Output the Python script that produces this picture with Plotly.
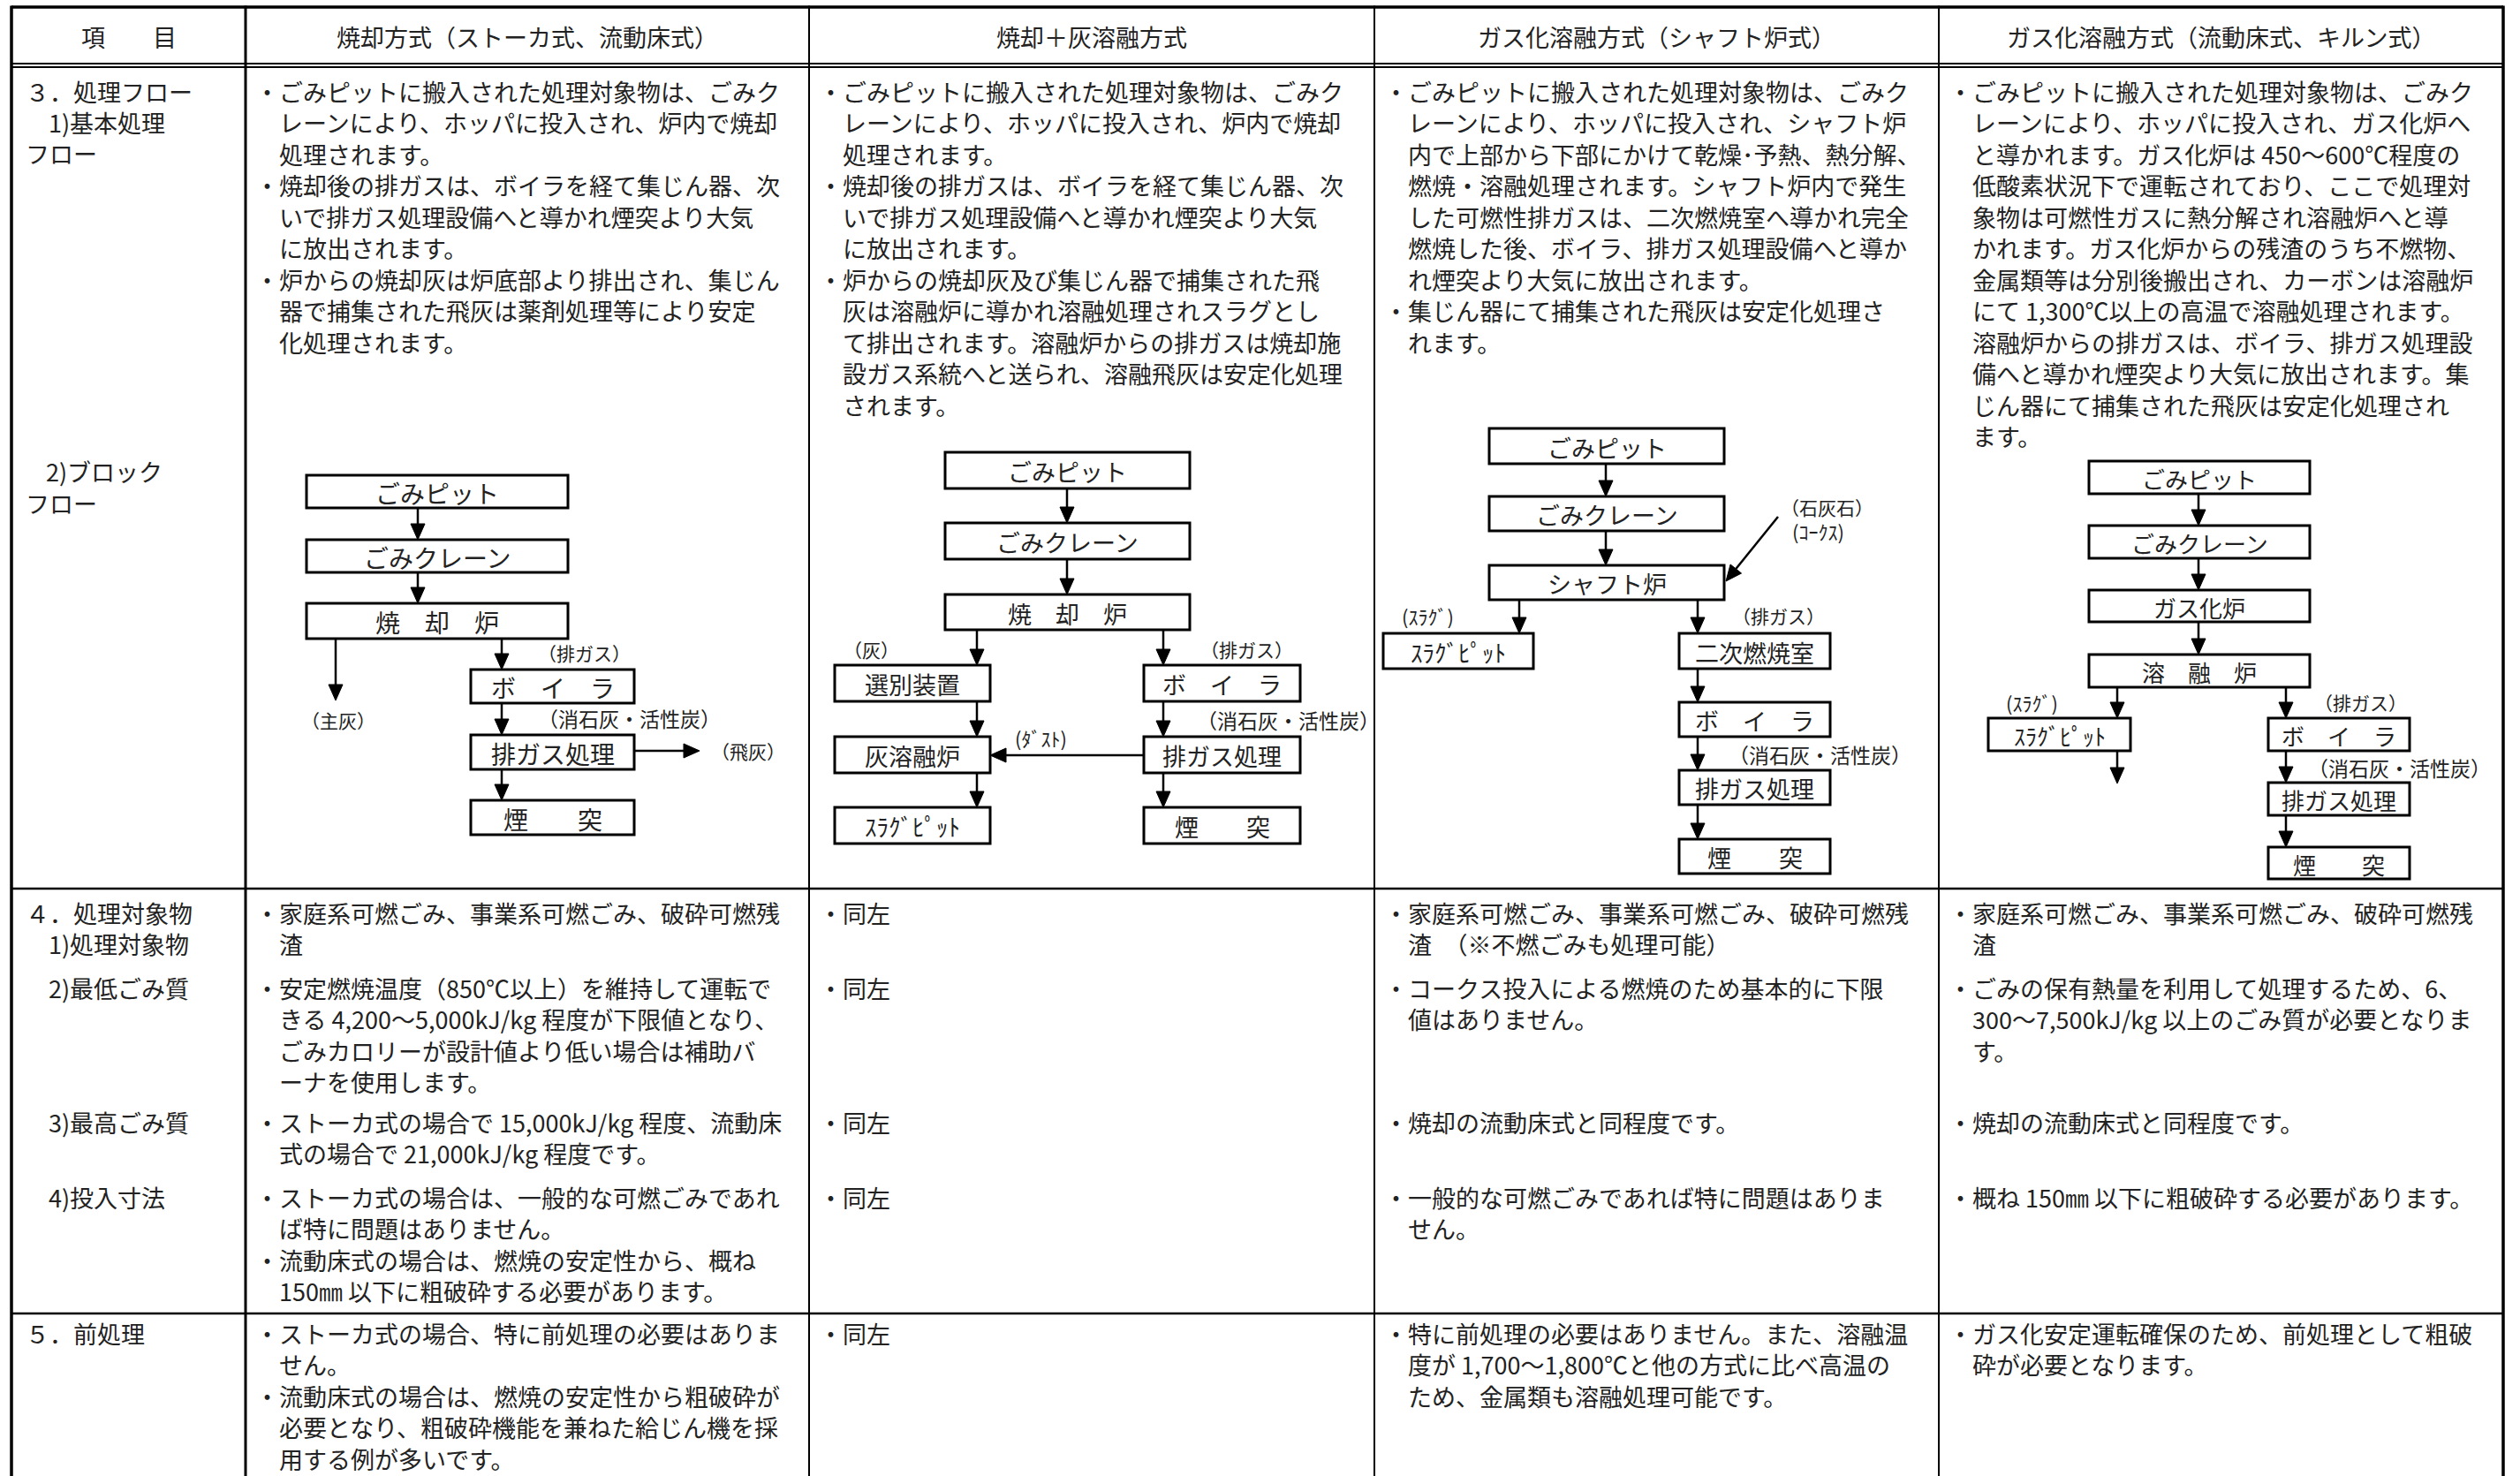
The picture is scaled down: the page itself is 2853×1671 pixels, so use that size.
import math
import plotly.graph_objects as go

W, H = 2853, 1671
FONT = "Noto Sans CJK JP"
INK = "#222222"

# ---------------- text content ----------------
headers = ["項　　目", "焼却方式（ストーカ式、流動床式）", "焼却＋灰溶融方式",
           "ガス化溶融方式（シャフト炉式）", "ガス化溶融方式（流動床式、キルン式）"]

item_labels = ["３．処理フロー", "1)基本処理", "フロー", "2)ブロック", "フロー",
               "４．処理対象物", "1)処理対象物", "2)最低ごみ質", "3)最高ごみ質", "4)投入寸法",
               "５．前処理"]

flow_c1 = ["・ごみピットに搬入された処理対象物は、ごみク",
           "レーンにより、ホッパに投入され、炉内で焼却",
           "処理されます。",
           "・焼却後の排ガスは、ボイラを経て集じん器、次",
           "いで排ガス処理設備へと導かれ煙突より大気",
           "に放出されます。",
           "・炉からの焼却灰は炉底部より排出され、集じん",
           "器で捕集された飛灰は薬剤処理等により安定",
           "化処理されます。"]
flow_c2 = ["・ごみピットに搬入された処理対象物は、ごみク",
           "レーンにより、ホッパに投入され、炉内で焼却",
           "処理されます。",
           "・焼却後の排ガスは、ボイラを経て集じん器、次",
           "いで排ガス処理設備へと導かれ煙突より大気",
           "に放出されます。",
           "・炉からの焼却灰及び集じん器で捕集された飛",
           "灰は溶融炉に導かれ溶融処理されスラグとし",
           "て排出されます。溶融炉からの排ガスは焼却施",
           "設ガス系統へと送られ、溶融飛灰は安定化処理",
           "されます。"]
flow_c3 = ["・ごみピットに搬入された処理対象物は、ごみク",
           "レーンにより、ホッパに投入され、シャフト炉",
           "内で上部から下部にかけて乾燥･予熱、熱分解、",
           "燃焼・溶融処理されます。シャフト炉内で発生",
           "した可燃性排ガスは、二次燃焼室へ導かれ完全",
           "燃焼した後、ボイラ、排ガス処理設備へと導か",
           "れ煙突より大気に放出されます。",
           "・集じん器にて捕集された飛灰は安定化処理さ",
           "れます。"]
flow_c4 = ["・ごみピットに搬入された処理対象物は、ごみク",
           "レーンにより、ホッパに投入され、ガス化炉へ",
           "と導かれます。ガス化炉は 450～600℃程度の",
           "低酸素状況下で運転されており、ここで処理対",
           "象物は可燃性ガスに熱分解され溶融炉へと導",
           "かれます。ガス化炉からの残渣のうち不燃物、",
           "金属類等は分別後搬出され、カーボンは溶融炉",
           "にて 1,300℃以上の高温で溶融処理されます。",
           "溶融炉からの排ガスは、ボイラ、排ガス処理設",
           "備へと導かれ煙突より大気に放出されます。集",
           "じん器にて捕集された飛灰は安定化処理され",
           "ます。"]

target_c1 = [["・家庭系可燃ごみ、事業系可燃ごみ、破砕可燃残", "渣"],
             ["・安定燃焼温度（850℃以上）を維持して運転で",
              "きる 4,200～5,000kJ/kg 程度が下限値となり、",
              "ごみカロリーが設計値より低い場合は補助バ",
              "ーナを使用します。"],
             ["・ストーカ式の場合で 15,000kJ/kg 程度、流動床",
              "式の場合で 21,000kJ/kg 程度です。"],
             ["・ストーカ式の場合は、一般的な可燃ごみであれ",
              "ば特に問題はありません。",
              "・流動床式の場合は、燃焼の安定性から、概ね",
              "150㎜ 以下に粗破砕する必要があります。"]]
target_c2 = [["・同左"], ["・同左"], ["・同左"], ["・同左"]]
target_c3 = [["・家庭系可燃ごみ、事業系可燃ごみ、破砕可燃残", "渣　（※不燃ごみも処理可能）"],
             ["・コークス投入による燃焼のため基本的に下限", "値はありません。"],
             ["・焼却の流動床式と同程度です。"],
             ["・一般的な可燃ごみであれば特に問題はありま", "せん。"]]
target_c4 = [["・家庭系可燃ごみ、事業系可燃ごみ、破砕可燃残", "渣"],
             ["・ごみの保有熱量を利用して処理するため、6、",
              "300～7,500kJ/kg 以上のごみ質が必要となりま", "す。"],
             ["・焼却の流動床式と同程度です。"],
             ["・概ね 150㎜ 以下に粗破砕する必要があります。"]]

pre_c1 = ["・ストーカ式の場合、特に前処理の必要はありま", "せん。",
          "・流動床式の場合は、燃焼の安定性から粗破砕が",
          "必要となり、粗破砕機能を兼ねた給じん機を採", "用する例が多いです。"]
pre_c2 = ["・同左"]
pre_c3 = ["・特に前処理の必要はありません。また、溶融温",
          "度が 1,700～1,800℃と他の方式に比べ高温の",
          "ため、金属類も溶融処理可能です。"]
pre_c4 = ["・ガス化安定運転確保のため、前処理として粗破", "砕が必要となります。"]

# block-flow box labels / side labels
boxes_c1 = ["ごみピット", "ごみクレーン", "焼　却　炉", "ボ　イ　ラ", "排ガス処理", "煙　　突"]
notes_c1 = ["（排ガス）", "（主灰）", "（消石灰・活性炭）", "（飛灰）"]
boxes_c2 = ["ごみピット", "ごみクレーン", "焼　却　炉", "選別装置", "ボ　イ　ラ",
            "灰溶融炉", "排ガス処理", "ｽﾗｸﾞﾋﾟｯﾄ", "煙　　突"]
notes_c2 = ["（灰）", "（排ガス）", "（消石灰・活性炭）", "(ﾀﾞｽﾄ)"]
boxes_c3 = ["ごみピット", "ごみクレーン", "シャフト炉", "ｽﾗｸﾞﾋﾟｯﾄ", "二次燃焼室",
            "ボ　イ　ラ", "排ガス処理", "煙　　突"]
notes_c3 = ["(ｽﾗｸﾞ)", "（排ガス）", "（消石灰・活性炭）", "（石灰石）", "(ｺｰｸｽ)"]
boxes_c4 = ["ごみピット", "ごみクレーン", "ガス化炉", "溶　融　炉", "ｽﾗｸﾞﾋﾟｯﾄ",
            "ボ　イ　ラ", "排ガス処理", "煙　　突"]
notes_c4 = ["(ｽﾗｸﾞ)", "（排ガス）", "（消石灰・活性炭）"]

# ---------------- layout geometry (page pixels) ----------------
COLS = [13, 278, 916, 1556, 2195, 2834]
Y_TOP, Y_HDR1, Y_HDR2, Y_R3, Y_R4 = 8, 72, 76, 1006, 1487
LS = 35.5
ROW3_Y0 = 103
SUB_Y = [1033, 1118, 1270, 1355]
ROW5_Y0 = 1509
label_pos = [(27, 103), (53, 138), (27, 173), (50, 533), (27, 569),
             (27, 1033), (53, 1068), (53, 1118), (53, 1270), (53, 1355), (27, 1509)]

geo_c1 = dict(
    boxes=[(347, 643, 538, 575), (347, 643, 611, 648), (347, 643, 683, 723),
           (533, 718, 758, 796), (533, 718, 832, 871), (533, 718, 906, 945)],
    arrows=[(473, 575, 473, 611), (473, 648, 473, 683), (380, 723, 380, 793),
            (568, 723, 568, 758), (568, 796, 568, 832), (718, 850, 792, 850),
            (568, 871, 568, 906)],
    notes=[(661, 739), (383, 815), (712, 813), (847, 850)], bsize=28)
geo_c2 = dict(
    boxes=[(1070, 1347, 512, 553), (1070, 1347, 592, 633), (1070, 1347, 673, 713),
           (945, 1121, 753, 794), (1295, 1472, 753, 794), (945, 1121, 834, 875),
           (1295, 1472, 834, 875), (945, 1121, 914, 955), (1295, 1472, 914, 955)],
    arrows=[(1208, 553, 1208, 592), (1208, 633, 1208, 673), (1106, 713, 1106, 753),
            (1317, 713, 1317, 753), (1106, 794, 1106, 834), (1317, 794, 1317, 834),
            (1295, 855, 1121, 855), (1106, 875, 1106, 914), (1317, 875, 1317, 914)],
    notes=[(986, 735), (1411, 735), (1458, 815), (1178, 835)], bsize=27)
geo_c3 = dict(
    boxes=[(1686, 1952, 485, 525), (1686, 1952, 562, 601), (1686, 1952, 640, 679),
           (1566, 1736, 717, 757), (1901, 2072, 717, 757), (1901, 2072, 795, 834),
           (1901, 2072, 872, 911), (1901, 2072, 950, 989)],
    arrows=[(1818, 525, 1818, 562), (1818, 601, 1818, 640), (1720, 679, 1720, 717),
            (1922, 679, 1922, 717), (1922, 757, 1922, 795), (1922, 834, 1922, 872),
            (1922, 911, 1922, 950), (2013, 585, 1954, 658)],
    notes=[(1616, 697), (2013, 697), (2060, 854), (2068, 574), (2058, 601)], bsize=27)
geo_c4 = dict(
    boxes=[(2365, 2615, 522, 559), (2365, 2615, 595, 632), (2365, 2615, 668, 704),
           (2365, 2615, 741, 778), (2251, 2412, 813, 850), (2568, 2728, 813, 850),
           (2568, 2728, 886, 923), (2568, 2728, 959, 995)],
    arrows=[(2489, 559, 2489, 595), (2489, 632, 2489, 668), (2489, 704, 2489, 741),
            (2397, 778, 2397, 813), (2588, 778, 2588, 813), (2397, 850, 2397, 887),
            (2588, 850, 2588, 886), (2588, 923, 2588, 959)],
    notes=[(2300, 795), (2672, 795), (2716, 869)], bsize=26)

BODY = 27


def note_size(s):
    if "消石灰" in s:
        return 23
    if "ｽ" in s or "ｺ" in s:
        return 22
    return 21


fig = go.Figure()
shapes, annos = [], []


def line(x0, y0, x1, y1, w=2.0):
    shapes.append(dict(type="line", x0=x0, y0=y0, x1=x1, y1=y1, xref="x", yref="y",
                       line=dict(color="black", width=w)))


def text(s, x, y, size=BODY, xanchor="left"):
    annos.append(dict(text=s, x=x, y=y, xref="x", yref="y", showarrow=False,
                      xanchor=xanchor, yanchor="middle",
                      font=dict(family=FONT, size=size, color=INK)))


def arrow(x0, y0, x1, y1, L=18, hw=8, w=2.5):
    dx, dy = x1 - x0, y1 - y0
    n = math.hypot(dx, dy)
    ux, uy = dx / n, dy / n
    bx, by = x1 - ux * L, y1 - uy * L
    px, py = -uy * hw, ux * hw
    line(x0, y0, bx, by, w)
    shapes.append(dict(type="path", xref="x", yref="y",
                       path=f"M{x1},{y1} L{bx + px},{by + py} L{bx - px},{by - py} Z",
                       fillcolor="black", line=dict(color="black", width=1)))


# grid lines
line(COLS[0], Y_TOP, COLS[-1], Y_TOP, 3.5)
line(COLS[0], Y_HDR1, COLS[-1], Y_HDR1, 2)
line(COLS[0], Y_HDR2, COLS[-1], Y_HDR2, 2)
line(COLS[0], Y_R3, COLS[-1], Y_R3, 2.5)
line(COLS[0], Y_R4, COLS[-1], Y_R4, 2.5)
vw = [3.5, 3, 2, 2, 2, 3.5]
for cx, w in zip(COLS, vw):
    line(cx, Y_TOP - 1.5, cx, H, w)

# headers
for i, h in enumerate(headers):
    text(h, (COLS[i] + COLS[i + 1]) / 2, 41, xanchor="center")

# row item labels
for s, (x, y) in zip(item_labels, label_pos):
    text(s, x, y)


def cell_lines(lines, col, y0):
    left = COLS[col]
    for k, s in enumerate(lines):
        x = left + 9 if s.startswith("・") else left + 36
        text(s, x, y0 + k * LS)


for col, lines in zip([1, 2, 3, 4], [flow_c1, flow_c2, flow_c3, flow_c4]):
    cell_lines(lines, col, ROW3_Y0)
for col, subs in zip([1, 2, 3, 4], [target_c1, target_c2, target_c3, target_c4]):
    for y0, lines in zip(SUB_Y, subs):
        cell_lines(lines, col, y0)
for col, lines in zip([1, 2, 3, 4], [pre_c1, pre_c2, pre_c3, pre_c4]):
    cell_lines(lines, col, ROW5_Y0)

# block flows
for labels, notes, geo in [(boxes_c1, notes_c1, geo_c1), (boxes_c2, notes_c2, geo_c2),
                           (boxes_c3, notes_c3, geo_c3), (boxes_c4, notes_c4, geo_c4)]:
    for lab, (x0, x1, y0, y1) in zip(labels, geo["boxes"]):
        shapes.append(dict(type="rect", x0=x0, x1=x1, y0=y0, y1=y1, xref="x", yref="y",
                           line=dict(color="black", width=3), fillcolor="rgba(0,0,0,0)"))
        text(lab, (x0 + x1) / 2, (y0 + y1) / 2 + 1, size=geo["bsize"], xanchor="center")
    for a in geo["arrows"]:
        arrow(*a)
    for s, (x, y) in zip(notes, geo["notes"]):
        text(s, x, y, size=note_size(s), xanchor="center")

fig.update_layout(
    width=W, height=H,
    margin=dict(l=0, r=0, t=0, b=0),
    paper_bgcolor="white", plot_bgcolor="white",
    xaxis=dict(range=[0, W], visible=False, fixedrange=True),
    yaxis=dict(range=[H, 0], visible=False, fixedrange=True),
    shapes=shapes, annotations=annos, showlegend=False,
)
fig.write_html("out.html", config={"displayModeBar": False},
               post_script="document.body.style.margin='0';document.body.style.overflow='hidden';")
